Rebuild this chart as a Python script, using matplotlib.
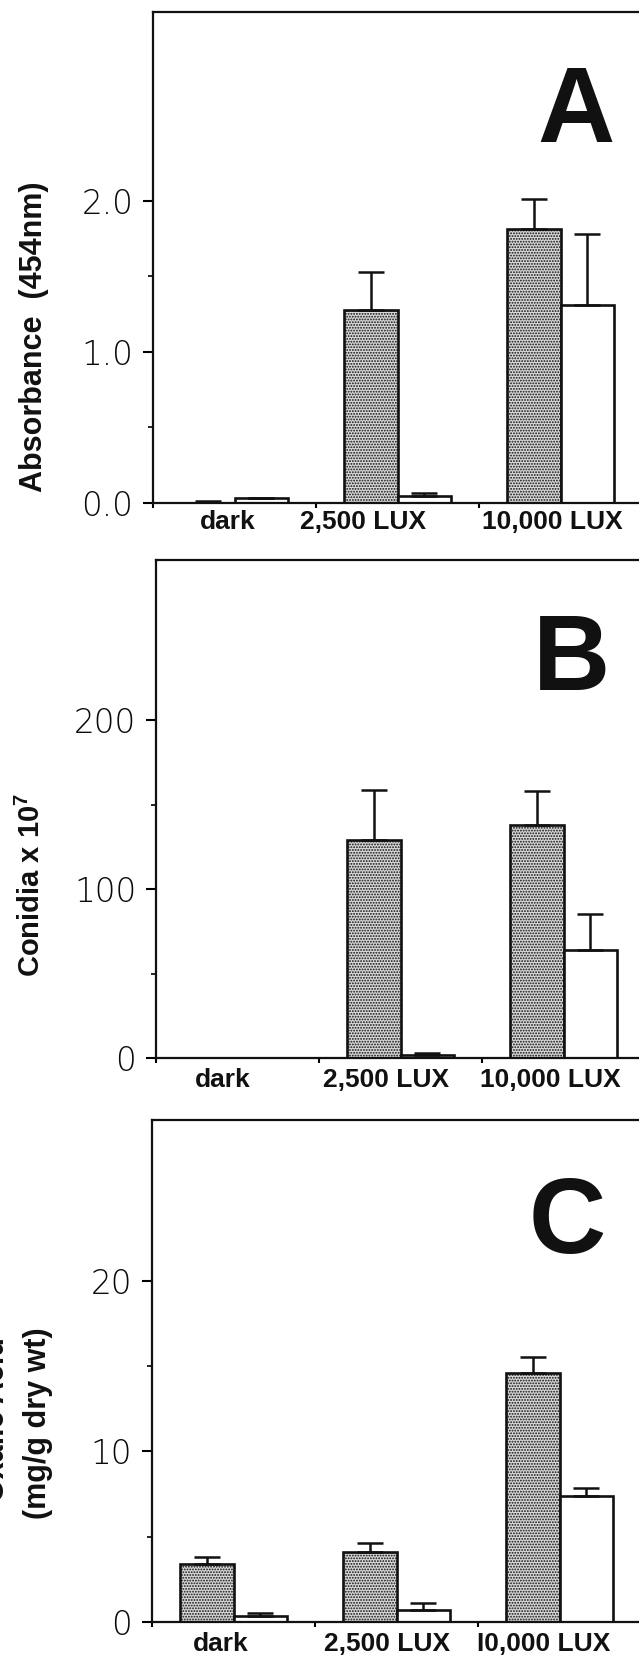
import numpy as np
import matplotlib
matplotlib.use('Agg')
import matplotlib.pyplot as plt

# ----------------------------------------------------------------------
# Data
# ----------------------------------------------------------------------

groups = ['dark', '2,500 LUX', '10,000 LUX']
groups_c = ['dark', '2,500 LUX', 'I0,000 LUX']

absorb_dots = [0.0, 1.28, 1.815]
absorb_dots_err = [0.01, 0.25, 0.20]
absorb_open = [0.033, 0.046, 1.31]
absorb_open_err = [0.0, 0.02, 0.47]

conidia_dots = [0.0, 128.8, 138.1]
conidia_dots_err = [0.0, 29.6, 19.7]
conidia_open = [0.0, 1.5, 64.0]
conidia_open_err = [0.0, 1.2, 21.1]

oxalic_dots = [3.38, 4.12, 14.6]
oxalic_dots_err = [0.40, 0.51, 0.92]
oxalic_open = [0.36, 0.68, 7.39]
oxalic_open_err = [0.17, 0.42, 0.47]

# ----------------------------------------------------------------------
# Figure setup
# ----------------------------------------------------------------------

W, H = 639, 1666
DPI = 100

plt.rcParams['font.family'] = ['Liberation Sans', 'DejaVu Sans']
plt.rcParams['hatch.color'] = '#303030'
plt.rcParams['hatch.linewidth'] = 0.9
plt.rcParams['mathtext.fontset'] = 'custom'
plt.rcParams['mathtext.rm'] = 'Liberation Sans'
plt.rcParams['mathtext.bf'] = 'Liberation Sans:bold'

fig = plt.figure(figsize=(W / DPI, H / DPI), dpi=DPI)


def fx(px):
    return px / W


def fy(py):
    return 1.0 - py / H


def draw_panel(left, top, bottom, ytop, yticks, yticklabels, yminor,
               dots, dots_err, opn, opn_err, names, label_x, label_pad):
    unit = 163.0
    ax = fig.add_axes([fx(left), fy(bottom), 3 * unit / W, (bottom - top) / H])
    x = np.arange(3)
    xd = x + 0.335
    xo = x + 0.665
    ax.bar(xd, dots, width=0.33, facecolor='#d8d8d8', edgecolor='#111111',
           hatch='......', linewidth=1.9, zorder=2)
    ax.bar(xo, opn, width=0.33, facecolor='white', edgecolor='#111111',
           linewidth=1.9, zorder=2)
    ax.errorbar(xd, dots, yerr=[np.zeros(3), dots_err], fmt='none',
                ecolor='#111111', elinewidth=1.8, capsize=9.5, capthick=1.8,
                zorder=3)
    ax.errorbar(xo, opn, yerr=[np.zeros(3), opn_err], fmt='none',
                ecolor='#111111', elinewidth=1.8, capsize=9.5, capthick=1.8,
                zorder=3)
    ax.set_xlim(0, 3)
    ax.set_ylim(0, ytop)
    ax.set_yticks(yticks)
    ax.set_yticklabels(yticklabels, family='DejaVu Sans', fontsize=23.5,
                       fontweight='light', color='#0a0a0a')
    ax.set_yticks(yminor, minor=True)
    ax.set_xticks([0, 1, 2, 3])
    ax.set_xticklabels([])
    ax.set_xticks(label_x, minor=True)
    ax.set_xticklabels(names, minor=True, fontsize=19, fontweight='bold',
                       color='#111111')
    ax.tick_params(axis='y', which='major', length=7.2, width=1.5, pad=7)
    ax.tick_params(axis='y', which='minor', length=3.6, width=1.2)
    ax.tick_params(axis='x', which='major', length=3.6, width=1.5)
    ax.tick_params(axis='x', which='minor', length=0, pad=label_pad)
    for s in ax.spines.values():
        s.set_linewidth(1.6)
        s.set_color('#111111')
    ax.spines['right'].set_visible(False)
    return ax


# panel A
draw_panel(153, 12, 503, 3.25, [0, 1, 2], ['0.0', '1.0', '2.0'], [0.5, 1.5],
           absorb_dots, absorb_dots_err, absorb_open, absorb_open_err,
           groups, [0.46, 1.29, 2.45], 5)

# panel B
draw_panel(156, 560, 1058, 294.7, [0, 100, 200], ['0', '100', '200'], [50, 150],
           conidia_dots, conidia_dots_err, conidia_open, conidia_open_err,
           groups, [0.41, 1.41, 2.42], 7)

# panel C
draw_panel(152, 1120, 1622, 29.4, [0, 10, 20], ['0', '10', '20'], [5, 15],
           oxalic_dots, oxalic_dots_err, oxalic_open, oxalic_open_err,
           groups_c, [0.42, 1.44, 2.40], 7)

# axis titles
fig.text(fx(34), fy(337), 'Absorbance  (454nm)', rotation=90, ha='center',
         va='center', fontsize=22, fontweight='bold', color='#111111')
fig.text(fx(31), fy(885), r'Conidia x 10$^{\mathbf{7}}$', rotation=90,
         ha='center', va='center', fontsize=21, fontweight='bold',
         color='#111111')
fig.text(fx(38), fy(1423), '(mg/g dry wt)', rotation=90, ha='center',
         va='center', fontsize=22, fontweight='bold', color='#111111')
fig.text(fx(-4), fy(1420), 'Oxalic Acid', rotation=90, ha='center',
         va='center', fontsize=22, fontweight='bold', color='#111111')

# panel letters
fig.text(fx(576), fy(142), 'A', ha='center', va='baseline', fontsize=77,
         fontweight='bold', color='#111111')
fig.text(fx(572), fy(690), 'B', ha='center', va='baseline', fontsize=77,
         fontweight='bold', color='#111111')
fig.text(fx(567), fy(1253), 'C', ha='center', va='baseline', fontsize=77,
         fontweight='bold', color='#111111')

fig.savefig('out.png', dpi=DPI)
